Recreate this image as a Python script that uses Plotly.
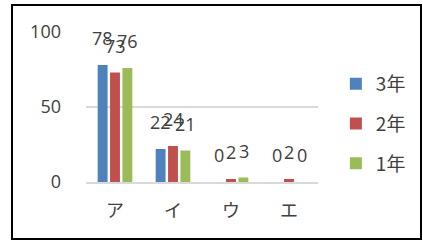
import plotly.graph_objects as go

categories = ["ア", "イ", "ウ", "エ"]
series_names = ["3年", "2年", "1年"]
values_3 = [78, 22, 0, 0]
values_2 = [73, 24, 2, 2]
values_1 = [76, 21, 3, 0]
colors = ["#4F81BD", "#C0504D", "#9BBB59"]
y_ticks = [0, 50, 100]

series = [values_3, values_2, values_1]
FONT = "Noto Sans CJK JP, Noto Sans, sans-serif"
NUMFONT = "Open Sans, Noto Sans CJK JP, sans-serif"
TXT = "#404040"

fig = go.Figure()
for i, (name, vals, col) in enumerate(zip(series_names, series, colors)):
    fig.add_trace(go.Bar(
        x=categories, y=vals, name=name, marker=dict(color=col, line=dict(width=0)),
        legendgroup=name,
    ))

annotations = []
for i, vals in enumerate(series):
    for c, v in zip(categories, vals):
        annotations.append(dict(
            x=c, y=v, xref="x", yref="y", text=str(v), showarrow=False,
            xshift=(i - 1) * 12.5, yshift=13, yanchor="bottom",
            font=dict(family=NUMFONT, size=18, color=TXT),
        ))

fig.update_layout(
    width=423, height=242,
    margin=dict(l=86, r=105, t=32, b=60, autoexpand=False),
    paper_bgcolor="white", plot_bgcolor="white",
    barmode="group", bargap=0.36, bargroupgap=0.2,
    font=dict(family=FONT, size=16, color=TXT),
    showlegend=True,
    legend=dict(x=1.077, y=0.78, xanchor="left", yanchor="top",
                font=dict(family=FONT, size=19, color=TXT),
                tracegroupgap=12, itemwidth=30, bgcolor="rgba(0,0,0,0)"),
    annotations=annotations,
    shapes=[dict(type="rect", xref="paper", yref="paper",
                 x0=(12 - 86) / 232, x1=(421 - 86) / 232,
                 y0=(182 - 239) / 150, y1=(182 - 5) / 150,
                 line=dict(color="black", width=2))],
)
fig.update_xaxes(showgrid=False, showline=True, linecolor="#d9d9d9", linewidth=1.5,
                 tickfont=dict(family=FONT, size=18, color=TXT), ticks="",
                 ticklabelstandoff=12)
fig.update_yaxes(range=[0, 100], tickvals=y_ticks, showgrid=True, gridcolor="#d9d9d9",
                 gridwidth=1.5, zeroline=False, showline=False,
                 tickfont=dict(family=NUMFONT, size=18, color=TXT), ticklabelstandoff=24)

fig.write_html("out.html", config={"displayModeBar": False},
               post_script="document.body.style.margin='0';document.body.style.overflow='hidden';")
